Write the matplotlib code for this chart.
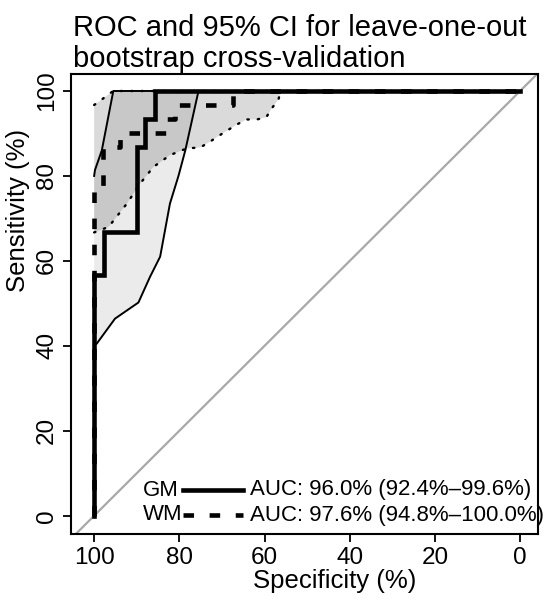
import matplotlib
matplotlib.use("Agg")
import matplotlib.pyplot as plt
from matplotlib.lines import Line2D

plt.rcParams['font.family'] = ['Liberation Sans', 'DejaVu Sans']

# ---- data (specificity %, sensitivity %) ----
gm_spec = [100, 100, 97.7, 97.7, 90.0, 90.0, 88.0, 88.0, 85.8, 85.8, 0]
gm_sens = [0, 56.7, 56.7, 66.7, 66.7, 86.7, 86.7, 93.3, 93.3, 100, 100]

wm_spec = [100, 100, 97.9, 97.9, 94.0, 94.0, 83.2, 83.2, 81.0, 81.0, 67.4, 67.4, 0]
wm_sens = [0, 76.7, 76.7, 86.7, 86.7, 90.0, 90.0, 93.3, 93.3, 96.7, 96.7, 100, 100]

gm_ci_lo_spec = [100, 99.4, 95.1, 89.6, 86.9, 84.5, 82.2, 80.2, 78.6, 75.5]
gm_ci_lo_sens = [40, 40.5, 46.4, 50.2, 56.2, 61.0, 73.5, 80.0, 86.0, 100]
gm_ci_hi_spec = [100, 99.8, 98.2, 95.5, 0]
gm_ci_hi_sens = [80, 81.4, 86.0, 100, 100]

wm_ci_lo_spec = [100, 96.6, 92.3, 89.2, 86.1, 82.2, 78.2, 75.1, 72.9, 70.8,
                 68.6, 66.5, 64.3, 61.8, 59.6, 58.3, 56.7, 56.2]
wm_ci_lo_sens = [66.7, 68.0, 73.5, 78.2, 82.1, 84.9, 86.5, 86.7, 88.0, 89.4,
                 90.8, 92.1, 93.3, 93.3, 93.8, 95.9, 98.1, 100]
wm_ci_hi_spec = [100, 98.2, 96.5, 95.5, 0]
wm_ci_hi_sens = [96.7, 98.0, 99.3, 100, 100]

x_ticks = [100, 80, 60, 40, 20, 0]
y_ticks = [0, 20, 40, 60, 80, 100]

legend_names = ["GM", "WM"]
legend_auc = ["AUC: 96.0% (92.4%\u201399.6%)", "AUC: 97.6% (94.8%\u2013100.0%)"]

title_lines = ["ROC and 95% CI for leave-one-out", "bootstrap cross-validation"]

# ---- figure ----
W, H = 543, 599
fig = plt.figure(figsize=(W / 100, H / 100), dpi=100)
L, R, T, B = 70.7, 538.0, 74.0, 534.0
ax = fig.add_axes([L / W, 1 - B / H, (R - L) / W, (B - T) / H])
ax.set_xlim(105.5, -4.2)
ax.set_ylim(-4.3, 104.0)

# CI polygons
gm_poly_x = gm_ci_lo_spec + gm_ci_hi_spec[::-1][1:]
gm_poly_y = gm_ci_lo_sens + gm_ci_hi_sens[::-1][1:]
ax.fill(gm_poly_x, gm_poly_y, facecolor='black', alpha=0.08, edgecolor='none', zorder=1)
wm_poly_x = wm_ci_lo_spec + wm_ci_hi_spec[::-1][1:]
wm_poly_y = wm_ci_lo_sens + wm_ci_hi_sens[::-1][1:]
ax.fill(wm_poly_x, wm_poly_y, facecolor='black', alpha=0.145, edgecolor='none', zorder=1)

# diagonal
ax.axline((100, 0), (0, 100), color='#a8a8a8', lw=1.6, zorder=2)

# CI borders
ax.plot(gm_ci_lo_spec, gm_ci_lo_sens, color='black', lw=1.4, zorder=3)
ax.plot(gm_ci_hi_spec, gm_ci_hi_sens, color='black', lw=1.4, zorder=3)
ax.plot(wm_ci_lo_spec, wm_ci_lo_sens, color='black', lw=1.7, ls=(0, (0.6, 3.8)),
        dash_capstyle='round', zorder=3)
ax.plot(wm_ci_hi_spec, wm_ci_hi_sens, color='black', lw=1.7, ls=(0, (0.6, 3.8)),
        dash_capstyle='round', zorder=3)

# ROC curves
ax.plot(gm_spec, gm_sens, color='black', lw=3.3, solid_joinstyle='miter', zorder=4)
ax.plot(wm_spec, wm_sens, color='black', lw=3.3, ls=(0, (2.3, 3.4)), zorder=4)

# axes styling
for s in ax.spines.values():
    s.set_linewidth(1.5)
ax.set_xticks(x_ticks)
ax.set_xticklabels([str(v) for v in x_ticks], fontsize=17.5)
ax.set_yticks(y_ticks)
ax.set_yticklabels([str(v) for v in y_ticks], fontsize=17.5, rotation=90, va='center')
ax.tick_params(direction='out', length=6, width=1.3, pad=3)

ax.set_xlabel("Specificity (%)", fontsize=18.5)
ax.set_ylabel("Sensitivity (%)", fontsize=18.5)
ax.xaxis.set_label_coords((335 - L) / (R - L), -(569 - B) / (B - T))
ax.yaxis.set_label_coords(-(L - 30) / (R - L), (B - 210) / (B - T))

# legend (manual)
rows_y = [(B - 490) / (B - T), (B - 515) / (B - T)]
x_name = (143 - L) / (R - L)
x_l0 = (183 - L) / (R - L)
x_l1 = (243 - L) / (R - L)
x_txt = (250 - L) / (R - L)
styles = [dict(ls='-'), dict(ls=(0, (2.3, 3.4)))]
for i in range(2):
    ax.text(x_name, rows_y[i], legend_names[i], transform=ax.transAxes,
            fontsize=16, va='center', ha='left')
    ax.add_line(Line2D([x_l0, x_l1], [rows_y[i], rows_y[i]], transform=ax.transAxes,
                       color='black', lw=3.3, **styles[i]))
    ax.text(x_txt, rows_y[i], legend_auc[i], transform=ax.transAxes,
            fontsize=16, va='center', ha='left')

# title
fig.text(73 / W, 1 - 36 / H, title_lines[0], fontsize=21, ha='left', va='baseline')
fig.text(73 / W, 1 - 67 / H, title_lines[1], fontsize=21, ha='left', va='baseline')

fig.savefig("out.png", dpi=100)
